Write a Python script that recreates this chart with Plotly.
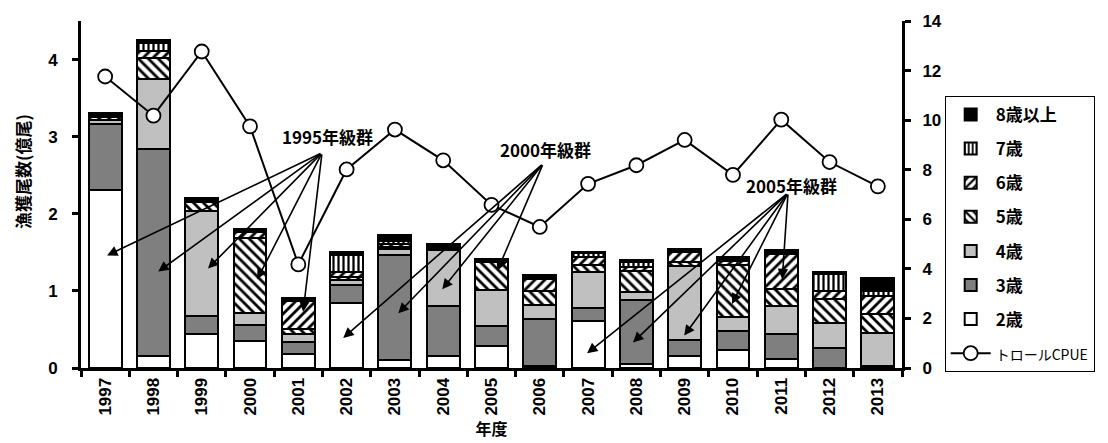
import plotly.graph_objects as go

# Fiscal years on the category axis
years = ["1997", "1998", "1999", "2000", "2001", "2002", "2003", "2004", "2005",
         "2006", "2007", "2008", "2009", "2010", "2011", "2012", "2013"]

# Catch in numbers by age (100 million fish)
age2 = [2.31, 0.16, 0.44, 0.35, 0.18, 0.84, 0.11, 0.16, 0.29, 0.02, 0.61, 0.05, 0.16, 0.23, 0.12, 0.00, 0.00]
age3 = [0.86, 2.68, 0.23, 0.21, 0.16, 0.23, 1.35, 0.64, 0.25, 0.61, 0.17, 0.83, 0.20, 0.25, 0.32, 0.26, 0.02]
age4 = [0.05, 0.91, 1.37, 0.15, 0.10, 0.07, 0.08, 0.73, 0.47, 0.19, 0.47, 0.10, 0.96, 0.18, 0.37, 0.32, 0.43]
age5 = [0.03, 0.27, 0.11, 0.97, 0.07, 0.04, 0.03, 0.02, 0.36, 0.18, 0.09, 0.28, 0.06, 0.67, 0.21, 0.31, 0.25]
age6 = [0.03, 0.09, 0.03, 0.09, 0.36, 0.06, 0.04, 0.02, 0.01, 0.15, 0.10, 0.05, 0.12, 0.06, 0.46, 0.11, 0.24]
age7 = [0.02, 0.11, 0.01, 0.02, 0.02, 0.23, 0.04, 0.01, 0.01, 0.02, 0.05, 0.06, 0.02, 0.03, 0.02, 0.22, 0.06]
age8p = [0.01, 0.03, 0.01, 0.01, 0.02, 0.03, 0.07, 0.03, 0.03, 0.03, 0.02, 0.03, 0.02, 0.02, 0.03, 0.02, 0.17]

# Trawl CPUE (right axis)
cpue = [11.76, 10.18, 12.77, 9.75, 4.18, 8.01, 9.62, 8.38, 6.58, 5.69, 7.43, 8.18, 9.20, 7.79, 10.02, 8.31, 7.33]

left_ticks = [0, 1, 2, 3, 4]
right_ticks = [0, 2, 4, 6, 8, 10, 12, 14]

# Year-class labels: (text, label position, arrow origin, arrow heads)
cohorts = [
    ("1995年級群", (4.60, 3.00), (4.49, 2.79),
     [(0.04, 1.46), (1.10, 1.25), (2.13, 1.29), (3.15, 1.15), (4.10, 0.73)]),
    ("2000年級群", (9.11, 2.84), (9.07, 2.65),
     [(4.93, 0.39), (6.07, 0.71), (6.98, 1.02), (8.12, 1.26)]),
    ("2005年級群", (14.22, 2.37), (14.14, 2.27),
     [(9.98, 0.19), (10.93, 0.33), (11.99, 0.42), (12.98, 0.83), (14.02, 1.15)]),
]

xpos = list(range(len(years)))
CJK = "Noto Sans CJK JP"


def hatch(shape, size=7, solidity=0.4):
    return dict(shape=shape, fgcolor="black", bgcolor="white",
                size=size, solidity=solidity, fillmode="replace")


series = [
    ("2歳", age2, dict(color="white"), 7),
    ("3歳", age3, dict(color="#7f7f7f"), 6),
    ("4歳", age4, dict(color="#c0c0c0"), 5),
    ("5歳", age5, dict(color="white", pattern=hatch("\\")), 4),
    ("6歳", age6, dict(color="white", pattern=hatch("/")), 3),
    ("7歳", age7, dict(color="white", pattern=hatch("|", 5, 0.45)), 2),
    ("8歳以上", age8p, dict(color="black"), 1),
]

fig = go.Figure()
for name, vals, mk, rank in series:
    fig.add_trace(go.Bar(
        x=xpos, y=vals, name=name, legendrank=rank, legendgroup=name,
        width=0.68,
        marker=dict(line=dict(color="black", width=2), **mk),
        yaxis="y",
    ))

fig.add_trace(go.Scatter(
    x=xpos, y=cpue, name="<span style='font-size:14px;font-weight:normal'>トロールCPUE</span>",
    legendrank=8, legendgroup="cpue",
    mode="lines+markers",
    line=dict(color="black", width=2),
    marker=dict(symbol="circle", size=14, color="white", line=dict(color="black", width=1.8)),
    yaxis="y2",
))

annotations = []
for text, (tx, ty), (ax, ay), heads in cohorts:
    annotations.append(dict(
        x=tx, y=ty, xref="x", yref="y", text=text, showarrow=False,
        font=dict(family=CJK, size=17, color="black", weight="bold"),
    ))
    for hx, hy in heads:
        annotations.append(dict(
            x=hx, y=hy, xref="x", yref="y", ax=ax, ay=ay, axref="x", ayref="y",
            text="", showarrow=True, arrowhead=2, arrowsize=1.3, arrowwidth=1.6,
            arrowcolor="black", standoff=0, startstandoff=0,
        ))

# Left-axis title, placed as rotated text
annotations.append(dict(
    x=-0.0706, y=0.565, xref="paper", yref="paper", text="漁獲尾数(億尾)",
    textangle=-90, showarrow=False, xanchor="center", yanchor="middle",
    font=dict(family=CJK, size=17, color="black", weight="bold"),
))

fig.update_layout(
    width=1108, height=443,
    margin=dict(l=81, r=206, t=12, b=75),
    paper_bgcolor="white", plot_bgcolor="white",
    barmode="stack", bargap=0.32,
    showlegend=True,
    legend=dict(
        x=1.052, y=0.784, xanchor="left", yanchor="top",
        traceorder="grouped", tracegroupgap=9,
        bordercolor="black", borderwidth=1, bgcolor="white",
        font=dict(family=CJK, size=17, color="black", weight="bold"),
        itemwidth=40,
    ),
    xaxis=dict(
        range=[-0.5, len(years) - 0.5],
        tickmode="array", tickvals=xpos, ticktext=years, tickangle=-90,
        ticks="", showgrid=False, zeroline=False,
        showline=True, linecolor="black", linewidth=3,
        tickfont=dict(family="Liberation Sans Narrow, Liberation Sans", size=17, color="black", weight="bold"),
        minor=dict(ticks="outside", tick0=-0.5, dtick=1, ticklen=6, tickwidth=3, tickcolor="black", showgrid=False),
        title=dict(text="年度", standoff=2,
                   font=dict(family=CJK, size=16, color="black", weight="bold")),
    ),
    yaxis=dict(
        range=[0, 4.5], tickvals=left_ticks, ticks="outside", ticklen=6, tickwidth=3,
        tickcolor="black", showgrid=False, zeroline=False,
        showline=True, linecolor="black", linewidth=3,
        ticklabelstandoff=11,
        tickfont=dict(family="Liberation Sans", size=17, color="black", weight="bold"),
    ),
    yaxis2=dict(
        range=[0, 14], tickvals=right_ticks, overlaying="y", side="right",
        ticks="outside", ticklen=6, tickwidth=3, tickcolor="black",
        showgrid=False, zeroline=False,
        showline=True, linecolor="black", linewidth=3,
        ticklabelstandoff=8,
        tickfont=dict(family="Liberation Sans", size=17, color="black", weight="bold"),
    ),
    annotations=annotations,
)

fig.write_html("out.html")
